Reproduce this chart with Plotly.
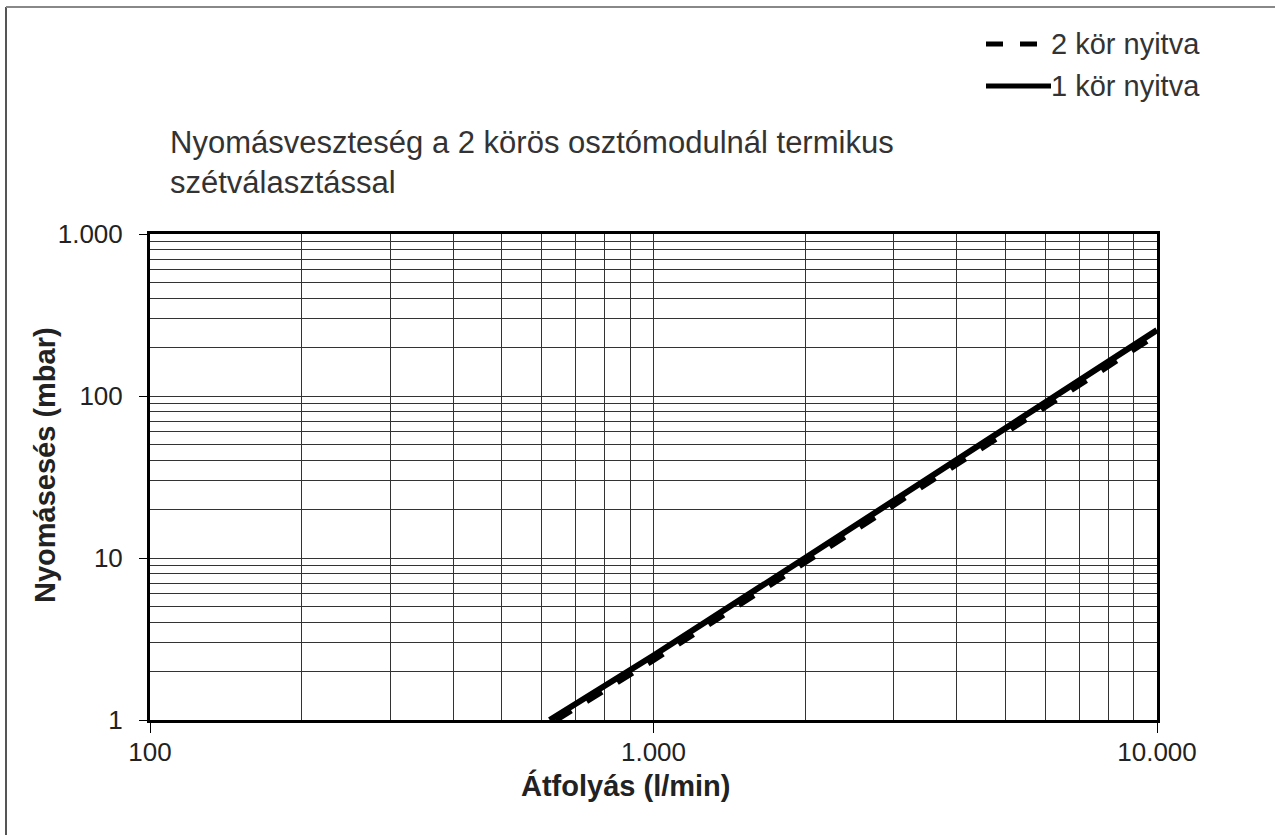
import plotly.graph_objects as go

# Data (flow l/min, pressure drop mbar)
flow_1kor = [622, 1000, 2000, 5000, 10000]
dp_1kor = [1.0, 2.5, 10.0, 63.0, 255.0]
flow_2kor = [640, 1000, 2000, 5000, 10000]
dp_2kor = [1.0, 2.35, 9.4, 59.0, 240.0]

x_major = [100, 1000, 10000]
x_major_text = ["100", "1.000", "10.000"]
x_minor = [200, 300, 400, 500, 600, 700, 800, 900,
           2000, 3000, 4000, 5000, 6000, 7000, 8000, 9000]
y_major = [1, 10, 100, 1000]
y_major_text = ["1", "10", "100", "1.000"]
y_minor = [2, 3, 4, 5, 6, 7, 8, 9, 20, 30, 40, 50, 60, 70, 80, 90,
           200, 300, 400, 500, 600, 700, 800, 900]

title_text = "Nyomásveszteség a 2 körös osztómodulnál termikus<br>szétválasztással"
x_title = "<b>Átfolyás (l/min)</b>"
y_title = "<b>Nyomásesés (mbar)</b>"
names = ["2 kör nyitva", "1 kör nyitva"]

FONT = "Liberation Sans, Arial, sans-serif"
TXT = "#222222"

fig = go.Figure()
fig.add_trace(go.Scatter(x=flow_2kor, y=dp_2kor, mode="lines", name=names[0],
                         line=dict(color="black", width=6, dash="dash"),
                         showlegend=False))
fig.add_trace(go.Scatter(x=flow_1kor, y=dp_1kor, mode="lines", name=names[1],
                         line=dict(color="black", width=6),
                         showlegend=False))

grid_col = "#333333"
fig.update_xaxes(type="log", range=[2, 4], tickmode="array", tickvals=x_major,
                 ticktext=x_major_text, ticks="outside", ticklen=10, tickwidth=1,
                 tickcolor="black", showgrid=True, gridcolor=grid_col, gridwidth=1,
                 minor=dict(tickmode="array", tickvals=x_minor, showgrid=True,
                            gridcolor=grid_col, gridwidth=1, ticks=""),
                 showline=True, linecolor="black", linewidth=3, mirror=True,
                 zeroline=False, ticklabelstandoff=-3,
                 tickfont=dict(family=FONT, size=26, color=TXT))
fig.update_yaxes(type="log", range=[0, 3], tickmode="array", tickvals=y_major,
                 ticktext=y_major_text, ticks="outside", ticklen=8, tickwidth=1,
                 tickcolor="black", showgrid=True, gridcolor=grid_col, gridwidth=1,
                 minor=dict(tickmode="array", tickvals=y_minor, showgrid=True,
                            gridcolor=grid_col, gridwidth=1, ticks=""),
                 showline=True, linecolor="black", linewidth=3, mirror=True,
                 zeroline=False, ticklabelstandoff=11,
                 tickfont=dict(family=FONT, size=26, color=TXT))

W, H = 1275, 835
L, R, T, B = 150, 118, 234, 115
pw, ph = W - L - R, H - T - B

def px(xp):
    return (xp - L) / pw

def py(yp):
    return (H - B - yp) / ph

shapes = []
# outer frame (left and top edges)
shapes.append(dict(type="line", xref="paper", yref="paper", x0=px(6), x1=px(6),
                   y0=py(7), y1=py(840), line=dict(color="#555555", width=2)))
shapes.append(dict(type="line", xref="paper", yref="paper", x0=px(6), x1=px(1280),
                   y0=py(7), y1=py(7), line=dict(color="#888888", width=2)))
# legend keys
shapes.append(dict(type="line", xref="paper", yref="paper", x0=px(986), x1=px(1037),
                   y0=py(44), y1=py(44), line=dict(color="black", width=5, dash="17px,17px")))
shapes.append(dict(type="line", xref="paper", yref="paper", x0=px(986), x1=px(1051),
                   y0=py(86), y1=py(86), line=dict(color="black", width=5)))

annotations = [
    dict(text=title_text, xref="paper", yref="paper", x=px(168), y=py(162),
         xanchor="left", yanchor="middle", align="left", showarrow=False,
         font=dict(family=FONT, size=31, color="#333333")),
    dict(text=names[0], xref="paper", yref="paper", x=px(1049), y=py(44),
         xanchor="left", yanchor="middle", showarrow=False,
         font=dict(family=FONT, size=29, color="#333333")),
    dict(text=names[1], xref="paper", yref="paper", x=px(1049), y=py(86),
         xanchor="left", yanchor="middle", showarrow=False,
         font=dict(family=FONT, size=29, color="#333333")),
    dict(text=x_title, xref="paper", yref="paper", x=px(625), y=py(785),
         xanchor="center", yanchor="middle", showarrow=False,
         font=dict(family=FONT, size=29, color=TXT)),
    dict(text=y_title, xref="paper", yref="paper", x=px(45), y=py(465),
         xanchor="center", yanchor="middle", showarrow=False, textangle=-90,
         font=dict(family=FONT, size=29, color=TXT)),
]

fig.update_layout(width=W, height=H, margin=dict(l=L, r=R, t=T, b=B),
                  paper_bgcolor="white", plot_bgcolor="white",
                  shapes=shapes, annotations=annotations, showlegend=False,
                  font=dict(family=FONT))

fig.write_html("out.html", config={"displayModeBar": False},
               post_script="document.body.style.margin='0';document.body.style.overflow='hidden';")
